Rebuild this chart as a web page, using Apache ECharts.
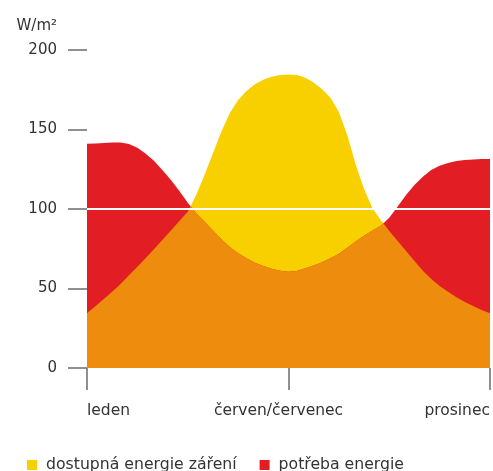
<!DOCTYPE html>
<html>
<head>
<meta charset="utf-8">
<script src="https://cdn.jsdelivr.net/npm/echarts@6/dist/echarts.min.js"></script>
<style>
  html, body { margin: 0; padding: 0; background: #fff; }
  #chart { width: 493px; height: 471px; }
</style>
</head>
<body>
<div id="chart"></div>
<script>
// Position in the year (0 = leden, 12 = prosinec), quarter-month steps
const months = [
  0, 0.25, 0.5, 0.75, 1, 1.25, 1.5, 1.75, 2, 2.25, 2.5, 2.75,
  3, 3.25, 3.5, 3.75, 4, 4.25, 4.5, 4.75, 5, 5.25, 5.5, 5.75,
  6, 6.25, 6.5, 6.75, 7, 7.25, 7.5, 7.75, 8, 8.25, 8.5, 8.75,
  9, 9.25, 9.5, 9.75, 10, 10.25, 10.5, 10.75, 11, 11.25, 11.5, 11.75, 12
];

// Available solar irradiation, W/m²
const solar = [
  34.4, 38.8, 43.4, 48, 52.8, 58.3, 63.7, 69.2, 74.8, 80.7, 86.4, 92.5,
  98.3, 108.8, 121.4, 135, 148.6, 160.2, 168.6, 174.2, 178.4, 181.3, 183.2, 184.3,
  184.6, 184.3, 182.6, 179.6, 175.3, 170, 161, 146.5, 128, 112.6, 100.5, 93,
  86.2, 79.9, 73.6, 67.3, 61.2, 56, 51.6, 48, 44.5, 41.5, 39, 36.5, 34.4
];

// Energy demand, W/m²
const demand = [
  141, 141.2, 141.5, 141.8, 141.8, 140.9, 138.6, 134.8, 130.2, 124.3, 118.2, 111.3,
  104, 97.3, 92, 86.4, 80.9, 76.1, 72.1, 69, 66.2, 64.2, 62.5, 61.2,
  60.6, 61, 62.7, 64.4, 66.5, 69, 71.9, 75.7, 79.5, 83.2, 86.4, 89.5,
  94.5, 101.5, 108.8, 115.1, 120.3, 124.5, 127.2, 128.9, 130.2, 130.8, 131.2, 131.4, 131.4
];

// Axis tick labels
const xTickLabels = ['leden', 'červen/červenec', 'prosinec'];
const yTicks = [0, 50, 100, 150, 200];

const seriesNames = ['dostupná energie záření', 'potřeba energie'];

// Part covered by both curves: the lower envelope, with crossing points added
function lowerEnvelope(xs, a, b) {
  const out = [];
  for (let i = 0; i < xs.length; i++) {
    out.push([xs[i], Math.min(a[i], b[i])]);
    if (i < xs.length - 1) {
      const d0 = a[i] - b[i], d1 = a[i + 1] - b[i + 1];
      if (d0 * d1 < 0) {
        const t = d0 / (d0 - d1);
        out.push([xs[i] + t * (xs[i + 1] - xs[i]), a[i] + t * (a[i + 1] - a[i])]);
      }
    }
  }
  return out;
}

const pairs = (xs, ys) => xs.map((x, i) => [x, ys[i]]);

const font = 'DejaVu Sans';
const textColor = '#333';
const tickColor = '#6b6b6b';
const YELLOW = '#f8d000';
const RED = '#e21d24';
const ORANGE = '#ee8d0d';

const chart = echarts.init(document.getElementById('chart'), null, { renderer: 'canvas' });

function areaSeries(name, data, color) {
  return {
    name: name,
    type: 'line',
    data: data,
    showSymbol: false,
    lineStyle: { width: 0 },
    itemStyle: { color: color },
    areaStyle: { color: color, opacity: 1 }
  };
}

const overlap = areaSeries('overlap', lowerEnvelope(months, solar, demand), ORANGE);
// Reference line at 100 W/m², drawn over the filled areas
overlap.markLine = {
  silent: true,
  symbol: 'none',
  label: { show: false },
  lineStyle: { color: '#fff', width: 2, type: 'solid' },
  data: [{ yAxis: 100 }]
};

chart.setOption({
  animation: false,
  backgroundColor: '#fff',
  grid: { left: 87, right: 1, top: 50, bottom: 103 },
  legend: {
    data: seriesNames,
    left: 22,
    top: 452,
    icon: 'rect',
    itemWidth: 10,
    itemHeight: 10,
    itemGap: 23,
    selectedMode: false,
    textStyle: { fontFamily: font, fontSize: 15.7, color: textColor, padding: [0, 0, 0, 4] }
  },
  xAxis: {
    type: 'value',
    min: 0,
    max: 12,
    interval: 6,
    axisLine: { show: false },
    axisTick: { show: true, length: 22, lineStyle: { color: tickColor, width: 1.5 } },
    splitLine: { show: false },
    axisLabel: {
      margin: 35,
      fontFamily: font,
      fontSize: 15.5,
      color: textColor,
      alignMinLabel: 'left',
      alignMaxLabel: 'right',
      formatter: v => {
        const i = Math.round(v / 6);
        return i === 1 ? '{mid|' + xTickLabels[i] + '}' : (xTickLabels[i] || '');
      },
      rich: {
        mid: { fontFamily: font, fontSize: 15.5, color: textColor, padding: [0, 20, 0, 0] }
      }
    }
  },
  yAxis: {
    type: 'value',
    min: yTicks[0],
    max: yTicks[yTicks.length - 1],
    interval: 50,
    name: 'W/m²',
    nameLocation: 'end',
    nameGap: 16,
    nameTextStyle: { fontFamily: font, fontSize: 15, color: textColor, align: 'right', padding: [0, 30, 0, 0] },
    axisLine: { show: false },
    axisTick: { show: true, length: 19, lineStyle: { color: tickColor, width: 1.5 } },
    splitLine: { show: false },
    axisLabel: { margin: 30, fontFamily: font, fontSize: 15, color: textColor }
  },
  series: [
    areaSeries(seriesNames[0], pairs(months, solar), YELLOW),
    areaSeries(seriesNames[1], pairs(months, demand), RED),
    overlap
  ]
});
</script>
</body>
</html>
